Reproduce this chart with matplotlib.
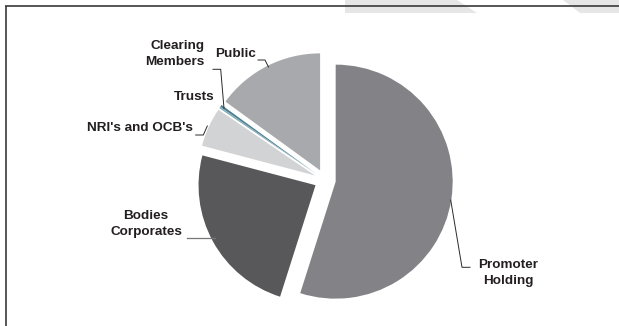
import matplotlib.pyplot as plt

# Shareholding pattern (%)
categories = ["Promoter Holding", "Bodies Corporates", "NRI's and OCB's",
              "Trusts", "Clearing Members", "Public"]
shares = [54.9, 24.2, 5.4, 0.2, 0.3, 15.0]
colors = ["#838387", "#58585a", "#d2d3d5", "#7aa8b6", "#4f7f8e", "#a8a9ac"]

W, H = 619, 326
fig = plt.figure(figsize=(W / 100, H / 100), dpi=100)
ax = fig.add_axes([0, 0, 1, 1])

# explode is in data units here (axes are in pixels)
ax.pie(shares, colors=colors, startangle=90, counterclock=False,
       explode=[10.8] * len(shares), radius=117, center=(325, 146),
       wedgeprops=dict(linewidth=0))
ax.set_xlim(0, W)
ax.set_ylim(0, H)
ax.set_aspect("equal")
ax.axis("off")

# light watermark band at the top and the frame
ax.fill([345, 457, 477, 345], [326, 326, 313, 313], color="#e6e6e6", lw=0, zorder=0)
ax.fill([563, 619, 619, 580], [326, 326, 313, 313], color="#e6e6e6", lw=0, zorder=0)
ax.plot([5, 619], [320, 320], color="#3a3a3a", lw=1.2, solid_capstyle="butt")
ax.plot([5.5, 5.5], [320, 0], color="#3a3a3a", lw=1.2, solid_capstyle="butt")

font = dict(family="Liberation Sans", weight="bold", size=9.7, color="#231f20",
            linespacing=1.45)

ax.text(204.5, 326 - 54, "Clearing\nMembers", ha="right", va="center",
        multialignment="right", **font)
ax.text(215, 326 - 54.3, "Public", ha="left", va="center", **font)
ax.text(174, 326 - 96.7, "Trusts", ha="left", va="center", **font)
ax.text(87, 326 - 128.3, "NRI's and OCB's", ha="left", va="center", **font)
ax.text(146, 326 - 224, "Bodies\nCorporates", ha="center", va="center",
        multialignment="center", **font)
ax.text(508, 326 - 273, "Promoter\nHolding", ha="center", va="center",
        multialignment="center", **font)

# leader lines
lc = dict(color="#2a2a2a", lw=0.7)
ax.plot([213, 220.7, 224], [326 - 69.3, 326 - 69.3, 326 - 108.3], **lc)
ax.plot([258, 265, 268.5], [326 - 60, 326 - 60, 326 - 67], **lc)
ax.plot([195.7, 203.3, 207.3], [326 - 135, 326 - 135, 326 - 126], **lc)
ax.plot([187.3, 215], [326 - 238.3, 326 - 238.3], color="#777777", lw=0.9)
ax.plot([450.7, 462, 470], [326 - 200, 326 - 267.3, 326 - 267.3], **lc)

fig.savefig("out.png", dpi=100)
